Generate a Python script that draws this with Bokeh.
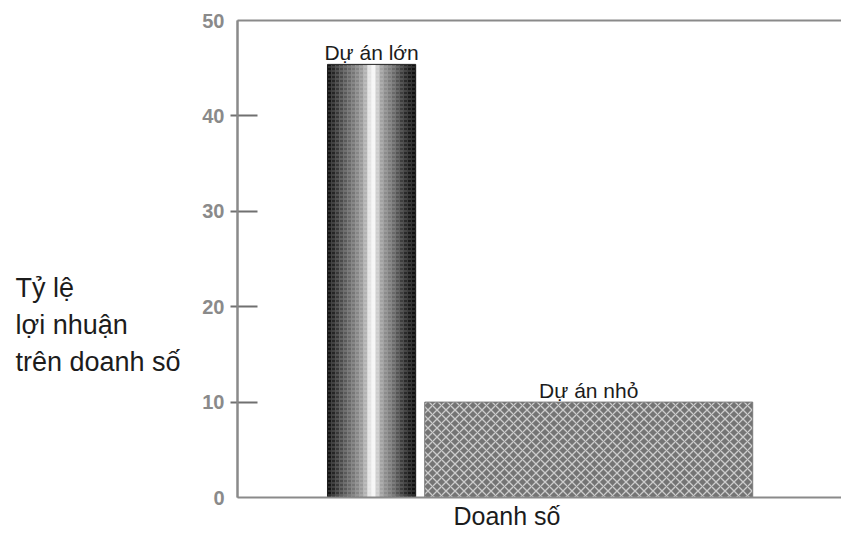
from bokeh.plotting import figure
from bokeh.models import Range1d, FixedTicker, Label, LinearAxis, ColumnDataSource
from bokeh.core.properties import value
from bokeh.embed import file_html
from bokeh.resources import INLINE

# ---------------- data ----------------
projects = ["Dự án lớn", "Dự án nhỏ"]
sales_start = [14.9, 31.0]     # where each project's sales block starts on the "Doanh số" axis
sales_width = [14.6, 54.3]     # sales volume (bar width)
profit_rate = [45.4, 10]       # profit on sales
y_ticks_marked = [10, 20, 30, 40]
y_ticks_edge = [0, 50]
y_title_lines = ["Tỷ lệ", "lợi nhuận", "trên doanh số"]
x_title = "Doanh số"

# ---------------- styles ----------------
big_shades = ["#141414", "#262626", "#383838", "#4a4a4a", "#5a5a5a", "#686868",
              "#767676", "#868686", "#989898", "#b2b2b2", "#e4e4e4", "#f6f6f6",
              "#cccccc", "#a2a2a2", "#8c8c8c", "#7c7c7c", "#6a6a6a", "#545454",
              "#3e3e3e", "#2a2a2a", "#1a1a1a", "#101010"]
AXIS_GRAY = "#8a8a8a"
FONT = "Liberation Sans"

W, H = 841, 533
# pixel geometry of the axes box inside the canvas
AX_L, AX_R, AX_T, AX_B = 237, 841, 20, 497
X0, X1, Y0, Y1 = 0, 100, 0, 50
PX_PER_X = (AX_R - AX_L) / (X1 - X0)
PX_PER_Y = (AX_B - AX_T) / (Y1 - Y0)


def px_to_x(px):
    return X0 + (px - AX_L) / PX_PER_X


def px_to_y(py):
    return Y1 - (py - AX_T) / PX_PER_Y


p = figure(width=W, height=H, output_backend="svg", toolbar_location=None,
           x_range=Range1d(px_to_x(0), px_to_x(W)),
           y_range=Range1d(px_to_y(H), px_to_y(0)),
           x_axis_location=None, y_axis_location=None,
           min_border=0, min_border_left=0, min_border_right=0,
           min_border_top=0, min_border_bottom=0)
p.outline_line_color = None
p.grid.visible = False
p.background_fill_color = "white"
p.border_fill_color = "white"


def style_y(ax, tick_len_in, tick_len_out, standoff, tick_color):
    ax.minor_tick_line_color = None
    ax.major_tick_in = tick_len_in
    ax.major_tick_out = tick_len_out
    ax.major_tick_line_color = tick_color
    ax.major_tick_line_width = 2
    ax.axis_line_color = AXIS_GRAY
    ax.axis_line_width = 2
    ax.major_label_text_font = FONT
    ax.major_label_text_font_style = "bold"
    ax.major_label_text_font_size = "20px"
    ax.major_label_text_color = "#8a8a8a"
    ax.major_label_standoff = standoff


# ---- axes fixed at the data origin ----
yax = LinearAxis(fixed_location=X0, bounds=(Y0, Y1),
                 ticker=FixedTicker(ticks=y_ticks_marked))
style_y(yax, 20, 7, 6, "#707070")
p.add_layout(yax, "left")

yax_edge = LinearAxis(fixed_location=X0, bounds=(Y0, Y1),
                      ticker=FixedTicker(ticks=y_ticks_edge))
style_y(yax_edge, 0, 0, 13, None)
p.add_layout(yax_edge, "left")

for loc, side in ((Y0, "below"), (Y1, "above")):
    ax = LinearAxis(fixed_location=loc, bounds=(X0, px_to_x(W)),
                    ticker=FixedTicker(ticks=[]))
    ax.minor_tick_line_color = None
    ax.major_tick_line_color = None
    ax.major_label_text_font_size = "0px"
    ax.axis_line_color = AXIS_GRAY
    ax.axis_line_width = 2
    p.add_layout(ax, side)

# ---- big project column: gradient made of thin strips ----
n = len(big_shades)
strip_w = sales_width[0] / n
strip_x = [sales_start[0] + strip_w * (i + 0.5) for i in range(n)]
p.vbar(x=strip_x, width=strip_w * 1.05, top=profit_rate[0], bottom=0,
       fill_color=big_shades, line_color=None)
# dotted texture over it
p.vbar(x=sales_start[0] + sales_width[0] / 2, width=sales_width[0],
       top=profit_rate[0], bottom=0, fill_color=None, fill_alpha=0,
       hatch_pattern="horizontal_dash", hatch_color="white", hatch_alpha=0.25,
       hatch_scale=4, hatch_weight=1, line_color="#202020", line_width=1)

# ---- small project block: cross-hatched ----
p.vbar(x=sales_start[1] + sales_width[1] / 2, width=sales_width[1],
       top=profit_rate[1], bottom=0, fill_color="#747474",
       hatch_pattern="diagonal_cross", hatch_color="#cccccc", hatch_alpha=1.0,
       hatch_scale=9, hatch_weight=1.3, line_color="#7a7a7a", line_width=1)

# ---- bar labels (12 px above each bar) ----
lab_src = ColumnDataSource(dict(
    x=[s + w / 2 for s, w in zip(sales_start, sales_width)],
    y=[v + 12 / PX_PER_Y for v in profit_rate],
    text=projects))
p.text(x="x", y="y", text="text", source=lab_src, text_align="center",
       text_baseline="alphabetic",
       text_font=value(FONT), text_font_size="21px",
       text_color="#1c1c1c")

# ---- axis titles ----
for line, py in zip(y_title_lines, [287, 324, 361]):
    p.add_layout(Label(x=px_to_x(15), y=px_to_y(py), text=line,
                       text_font=FONT, text_font_size="27px",
                       text_baseline="middle", text_align="left",
                       text_color="#1c1c1c"))

p.add_layout(Label(x=px_to_x(453), y=px_to_y(515), text=x_title,
                   text_font=FONT, text_font_size="25px",
                   text_baseline="middle", text_align="left",
                   text_color="#1c1c1c"))

open("out.html", "w").write(file_html(p, INLINE))
